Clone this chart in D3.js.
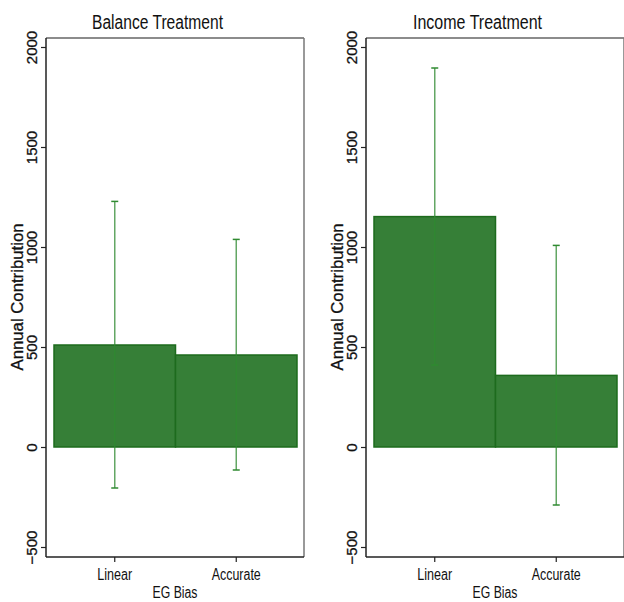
<!DOCTYPE html>
<html><head><meta charset="utf-8">
<script src="https://cdn.jsdelivr.net/npm/d3@7"></script>
<style>body{margin:0;background:#fff}svg{display:block}</style>
</head><body>
<svg id="c" width="624" height="602"></svg>
<script>
const categories = ["Linear", "Accurate"];
const panelTitles = ["Balance Treatment", "Income Treatment"];
const meanBalance = [510, 460];
const lowBalance = [-205, -115];
const highBalance = [1228, 1038];
const meanIncome = [1152, 358];
const lowIncome = [410, -290];
const highIncome = [1895, 1008];
const yTicks = [-500, 0, 500, 1000, 1500, 2000];
const xTitle = "EG Bias";
const yTitle = "Annual Contribution";

const panels = [
  {title: panelTitles[0], tlen: 131, mean: meanBalance, low: lowBalance, high: highBalance, off: 0},
  {title: panelTitles[1], tlen: 129, mean: meanIncome, low: lowIncome, high: highIncome, off: 320}
];
const catLen = {"Linear": 35, "Accurate": 49};

const svg = d3.select("#c");
const y = d3.scaleLinear().domain([-550, 2045]).range([557, 38]);
const sans = "'Liberation Sans', Arial, sans-serif";

panels.forEach(p => {
  const g = svg.append("g").attr("transform", `translate(${p.off},0)`);
  const axX = 46, frameR = 304;
  const x = d3.scaleBand().domain(categories).range([54, 297]).paddingInner(0).paddingOuter(0);

  // frame
  g.append("line").attr("x1", axX).attr("x2", frameR).attr("y1", 38).attr("y2", 38).attr("stroke", "#666").attr("stroke-width", 1.5);
  g.append("line").attr("x1", frameR).attr("x2", frameR).attr("y1", 38).attr("y2", 557).attr("stroke", "#777").attr("stroke-width", 1.5);

  // bars
  g.selectAll("rect.bar").data(categories).enter().append("rect")
    .attr("x", d => x(d)).attr("width", x.bandwidth())
    .attr("y", (d, i) => y(Math.max(0, p.mean[i])))
    .attr("height", (d, i) => Math.abs(y(p.mean[i]) - y(0)))
    .attr("fill", "#367f37").attr("stroke", "#1d6b1d").attr("stroke-width", 1.5);

  // error bars
  const eb = g.selectAll("g.eb").data(categories).enter().append("g").attr("stroke", "#2f8a30").attr("stroke-width", 1.5);
  eb.append("line")
    .attr("x1", d => x(d) + x.bandwidth() / 2).attr("x2", d => x(d) + x.bandwidth() / 2)
    .attr("y1", (d, i) => y(p.low[i])).attr("y2", (d, i) => y(p.high[i])).attr("stroke-opacity", 0.75);
  eb.append("line")
    .attr("x1", d => x(d) + x.bandwidth() / 2 - 3.5).attr("x2", d => x(d) + x.bandwidth() / 2 + 3.5)
    .attr("y1", (d, i) => y(p.low[i])).attr("y2", (d, i) => y(p.low[i]));
  eb.append("line")
    .attr("x1", d => x(d) + x.bandwidth() / 2 - 3.5).attr("x2", d => x(d) + x.bandwidth() / 2 + 3.5)
    .attr("y1", (d, i) => y(p.high[i])).attr("y2", (d, i) => y(p.high[i]));

  // y axis
  const ya = g.append("g").attr("transform", `translate(${axX},0)`)
    .call(d3.axisLeft(y).tickValues(yTicks).tickSize(5).tickSizeOuter(0).tickFormat(d3.format("d")));
  ya.select(".domain").attr("stroke", "#222").attr("stroke-width", 1.5).attr("d", "M0,38V557");
  ya.selectAll(".tick line").attr("stroke", "#222").attr("stroke-width", 1.2);
  ya.selectAll(".tick text").attr("font-family", sans).attr("font-size", 15).attr("fill", "#111")
    .attr("stroke", "#111").attr("stroke-width", 0.3)
    .attr("transform", "rotate(-90)").attr("x", 0).attr("y", -9).attr("dy", 0)
    .attr("text-anchor", "middle");

  // x axis
  const xa = g.append("g").attr("transform", "translate(0,557)")
    .call(d3.axisBottom(x).tickSize(5).tickSizeOuter(0));
  xa.select(".domain").attr("stroke", "#222").attr("stroke-width", 1.5).attr("d", `M${axX},0H${frameR}`);
  xa.selectAll(".tick line").attr("stroke", "#222").attr("stroke-width", 1.2);
  xa.selectAll(".tick text").attr("font-family", sans).attr("font-size", 16).attr("fill", "#111")
    .attr("y", 23).attr("dy", 0)
    .attr("textLength", d => catLen[d]).attr("lengthAdjust", "spacingAndGlyphs");

  // axis titles
  g.append("text").attr("x", 175).attr("y", 598).attr("text-anchor", "middle")
    .attr("font-family", sans).attr("font-size", 16).attr("fill", "#111")
    .attr("textLength", 45).attr("lengthAdjust", "spacingAndGlyphs").text(xTitle);
  g.append("text").attr("transform", "translate(23,297) rotate(-90)").attr("text-anchor", "middle")
    .attr("font-family", sans).attr("font-size", 16).attr("fill", "#111")
    .attr("stroke", "#111").attr("stroke-width", 0.3)
    .attr("textLength", 147).attr("lengthAdjust", "spacingAndGlyphs").text(yTitle);

  // title
  g.append("text").attr("x", 157.5).attr("y", 29).attr("text-anchor", "middle")
    .attr("font-family", sans).attr("font-size", 20).attr("fill", "#111")
    .attr("textLength", p.tlen).attr("lengthAdjust", "spacingAndGlyphs").text(p.title);
});
</script>
</body></html>
